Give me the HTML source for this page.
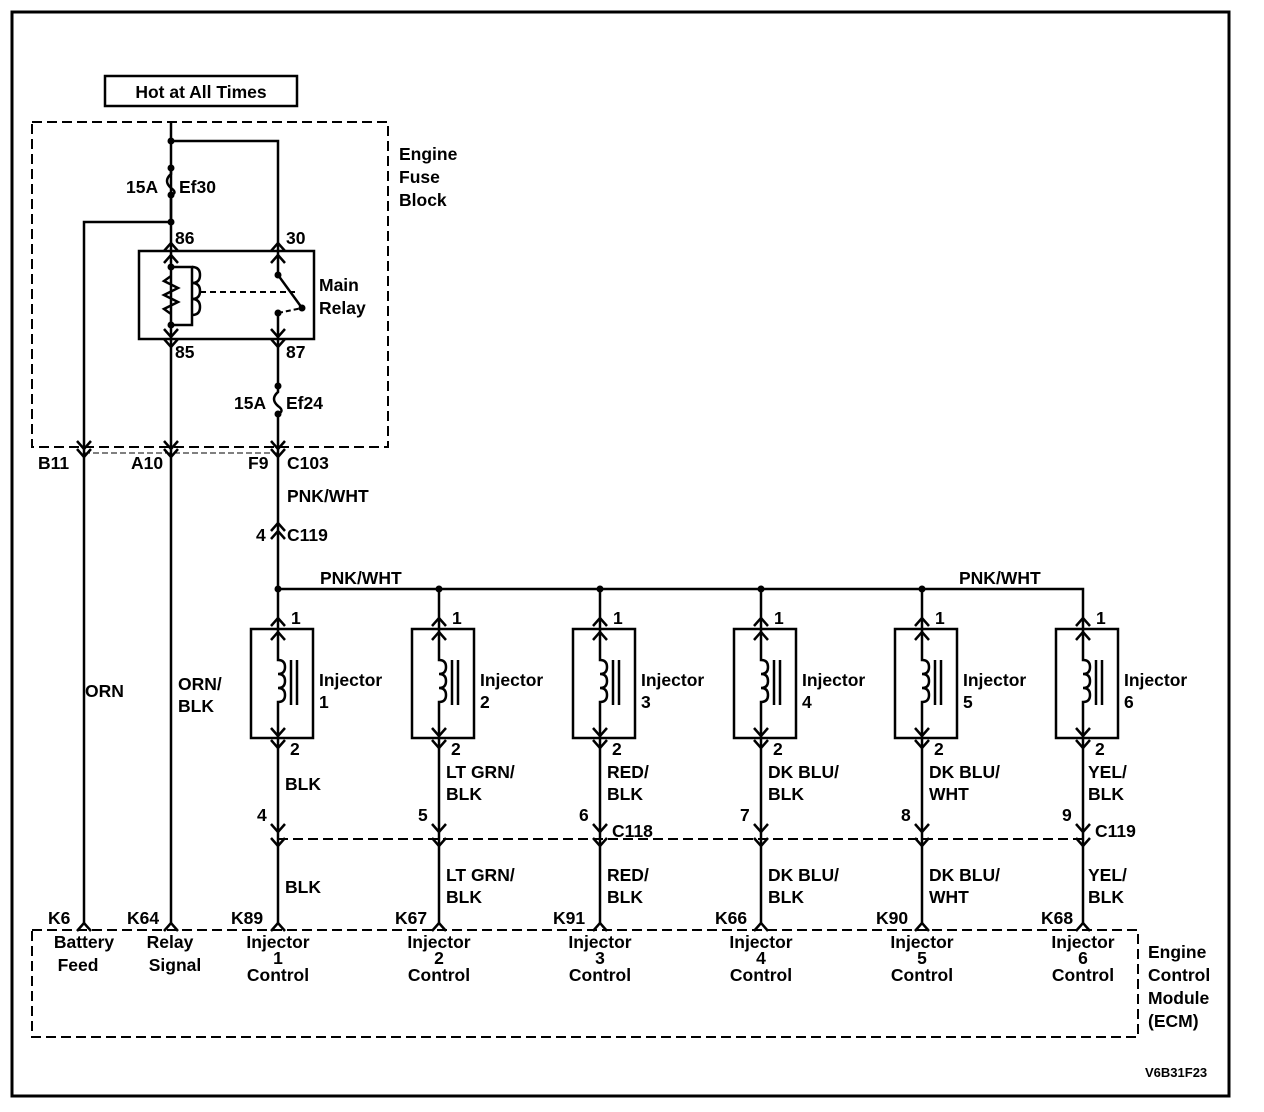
<!DOCTYPE html>
<html><head><meta charset="utf-8"><style>
html,body{margin:0;padding:0;background:#fff;}
svg{display:block}
text{font-family:"Liberation Sans",Arial,sans-serif;font-size:17.5px;font-weight:bold;fill:#000}
</style></head><body>
<svg width="1264" height="1112" viewBox="0 0 1264 1112" xmlns="http://www.w3.org/2000/svg">
<defs>
<path id="vd" d="M-7,-8 L0,0 L7,-8" fill="none" stroke="#000" stroke-width="2.5"/>
<path id="vu" d="M-7,8 L0,0 L7,8" fill="none" stroke="#000" stroke-width="2.5"/>
</defs>
<rect x="12" y="12" width="1217" height="1084" fill="none" stroke="#000" stroke-width="3"/>
<rect x="105" y="76" width="192" height="30" fill="none" stroke="#000" stroke-width="2.5"/>
<text x="201" y="98" text-anchor="middle">Hot at All Times</text>

<g fill="none" stroke="#000" stroke-dasharray="10,5" stroke-width="2">
<rect x="32" y="122" width="356" height="325"/>
<rect x="32" y="930" width="1106" height="107"/>
<line x1="278" y1="839" x2="1083" y2="839"/>
</g>
<line x1="84" y1="453" x2="278" y2="453" stroke="#000" stroke-width="1" stroke-dasharray="6,3"/>
<text x="399" y="160">Engine</text><text x="399" y="183">Fuse</text><text x="399" y="206">Block</text>

<g stroke="#000" stroke-width="2.5" fill="none">
<path d="M171,122 V243"/>
<path d="M171,141 H278 V243"/>
<path d="M84,453 V222 H171"/>
<path d="M171,168 V174 q-8,7 0,14 q7,5 0,7"/>
<path d="M171,195 V222"/>
<rect x="139" y="251" width="175" height="88"/>
<path d="M171,243 V347"/>
<path d="M171,267 H192 V325 H171"/>
<path d="M171,276 l-7,5 l14,7 l-14,7 l14,7 l-14,7 l7,5"/>
<path d="M192,267 q8,0 8,8 q0,8 -8,8 q8,0 8,8 q0,8 -8,8 q8,0 8,8 q0,8 -8,8"/>
<path d="M278,243 V275 L302,308"/>
<path d="M278,313 V347"/>
<path d="M200,292 H295" stroke-dasharray="6,4" stroke-width="2"/>
<path d="M278,313 L302,308" stroke-dasharray="5,3" stroke-width="2"/>
<path d="M278,347 V386"/>
<path d="M278,386 V392 q-8,7 0,14 q7,5 0,8"/>
<path d="M278,414 V588"/>
<path d="M171,347 V925"/>
<path d="M84,453 V925"/>
<path d="M278,589 H1083 V618"/>
</g>
<g fill="#000">
<circle cx="171" cy="141" r="3.5"/><circle cx="171" cy="168" r="3.5"/><circle cx="171" cy="195" r="3.5"/><circle cx="171" cy="222" r="3.5"/>
<circle cx="171" cy="267" r="3.5"/><circle cx="171" cy="325" r="3.5"/>
<circle cx="278" cy="275" r="3.5"/><circle cx="278" cy="313" r="3.5"/><circle cx="302" cy="308" r="3.5"/>
<circle cx="278" cy="386" r="3.5"/><circle cx="278" cy="414" r="3.5"/>
<circle cx="278" cy="589" r="3.5"/><circle cx="439" cy="589" r="3.5"/><circle cx="600" cy="589" r="3.5"/><circle cx="761" cy="589" r="3.5"/><circle cx="922" cy="589" r="3.5"/>
</g>
<use href="#vu" x="171" y="243"/><use href="#vu" x="171" y="255"/>
<use href="#vu" x="278" y="243"/><use href="#vu" x="278" y="255"/>
<use href="#vd" x="171" y="337"/><use href="#vd" x="171" y="347"/>
<use href="#vd" x="278" y="337"/><use href="#vd" x="278" y="347"/>
<use href="#vd" x="84" y="449"/><use href="#vd" x="84" y="457"/>
<use href="#vd" x="171" y="449"/><use href="#vd" x="171" y="457"/>
<use href="#vd" x="278" y="449"/><use href="#vd" x="278" y="457"/>
<use href="#vu" x="278" y="523"/><use href="#vu" x="278" y="531"/>
<use href="#vu" x="84" y="923"/><use href="#vu" x="171" y="923"/>

<text x="175" y="244">86</text><text x="286" y="244">30</text>
<text x="175" y="358">85</text><text x="286" y="358">87</text>
<text x="319" y="291">Main</text><text x="319" y="314">Relay</text>
<text x="126" y="193">15A</text><text x="179" y="193">Ef30</text>
<text x="234" y="409">15A</text><text x="286" y="409">Ef24</text>
<text x="38" y="469">B11</text><text x="131" y="469">A10</text><text x="248" y="469">F9</text><text x="287" y="469">C103</text>
<text x="287" y="502">PNK/WHT</text>
<text x="256" y="541">4</text><text x="287" y="541">C119</text>
<text x="320" y="584">PNK/WHT</text><text x="959" y="584">PNK/WHT</text>
<text x="85" y="697">ORN</text>
<text x="178" y="690">ORN/</text><text x="178" y="712">BLK</text>
<text x="48" y="924">K6</text><text x="127" y="924">K64</text>
<text x="84" y="948" text-anchor="middle">Battery</text><text x="78" y="971" text-anchor="middle">Feed</text>
<text x="170" y="948" text-anchor="middle">Relay</text><text x="175" y="971" text-anchor="middle">Signal</text>
<text x="1148" y="958">Engine</text><text x="1148" y="981">Control</text><text x="1148" y="1004">Module</text><text x="1148" y="1027">(ECM)</text>
<text x="1145" y="1077" style="font-size:13px">V6B31F23</text>

<g stroke="#000" stroke-width="2.5" fill="none">
<path d="M278,589 V618"/><path d="M439,589 V618"/><path d="M600,589 V618"/><path d="M761,589 V618"/><path d="M922,589 V618"/>
</g>

<g transform="translate(278,0)">
<g stroke="#000" stroke-width="2.5" fill="none"><rect x="-27" y="629" width="62" height="109"/><path d="M0,618 V660 q7,0 7,7 q0,7 -7,7 q7,0 7,7 q0,7 -7,7 q7,0 7,7 q0,7 -7,7 V925"/><path d="M13,660 V705 M19,660 V705"/></g>
<use href="#vu" x="0" y="618"/><use href="#vu" x="0" y="632"/><use href="#vd" x="0" y="736"/><use href="#vd" x="0" y="748"/><use href="#vd" x="0" y="832"/><use href="#vd" x="0" y="846"/><use href="#vu" x="0" y="923"/>
<text x="13" y="624">1</text><text x="41" y="686">Injector</text><text x="41" y="708">1</text><text x="12" y="755">2</text>
<text x="7" y="790">BLK</text><text x="-21" y="821">4</text><text x="7" y="893">BLK</text><text x="-47" y="924">K89</text>
<text x="0" y="948" text-anchor="middle">Injector</text><text x="0" y="964" text-anchor="middle">1</text><text x="0" y="981" text-anchor="middle">Control</text>
</g>
<g transform="translate(439,0)">
<g stroke="#000" stroke-width="2.5" fill="none"><rect x="-27" y="629" width="62" height="109"/><path d="M0,618 V660 q7,0 7,7 q0,7 -7,7 q7,0 7,7 q0,7 -7,7 q7,0 7,7 q0,7 -7,7 V925"/><path d="M13,660 V705 M19,660 V705"/></g>
<use href="#vu" x="0" y="618"/><use href="#vu" x="0" y="632"/><use href="#vd" x="0" y="736"/><use href="#vd" x="0" y="748"/><use href="#vd" x="0" y="832"/><use href="#vd" x="0" y="846"/><use href="#vu" x="0" y="923"/>
<text x="13" y="624">1</text><text x="41" y="686">Injector</text><text x="41" y="708">2</text><text x="12" y="755">2</text>
<text x="7" y="778">LT GRN/</text><text x="7" y="800">BLK</text><text x="-21" y="821">5</text><text x="7" y="881">LT GRN/</text><text x="7" y="903">BLK</text><text x="-44" y="924">K67</text>
<text x="0" y="948" text-anchor="middle">Injector</text><text x="0" y="964" text-anchor="middle">2</text><text x="0" y="981" text-anchor="middle">Control</text>
</g>
<g transform="translate(600,0)">
<g stroke="#000" stroke-width="2.5" fill="none"><rect x="-27" y="629" width="62" height="109"/><path d="M0,618 V660 q7,0 7,7 q0,7 -7,7 q7,0 7,7 q0,7 -7,7 q7,0 7,7 q0,7 -7,7 V925"/><path d="M13,660 V705 M19,660 V705"/></g>
<use href="#vu" x="0" y="618"/><use href="#vu" x="0" y="632"/><use href="#vd" x="0" y="736"/><use href="#vd" x="0" y="748"/><use href="#vd" x="0" y="832"/><use href="#vd" x="0" y="846"/><use href="#vu" x="0" y="923"/>
<text x="13" y="624">1</text><text x="41" y="686">Injector</text><text x="41" y="708">3</text><text x="12" y="755">2</text>
<text x="7" y="778">RED/</text><text x="7" y="800">BLK</text><text x="-21" y="821">6</text><text x="12" y="837">C118</text><text x="7" y="881">RED/</text><text x="7" y="903">BLK</text><text x="-47" y="924">K91</text>
<text x="0" y="948" text-anchor="middle">Injector</text><text x="0" y="964" text-anchor="middle">3</text><text x="0" y="981" text-anchor="middle">Control</text>
</g>
<g transform="translate(761,0)">
<g stroke="#000" stroke-width="2.5" fill="none"><rect x="-27" y="629" width="62" height="109"/><path d="M0,618 V660 q7,0 7,7 q0,7 -7,7 q7,0 7,7 q0,7 -7,7 q7,0 7,7 q0,7 -7,7 V925"/><path d="M13,660 V705 M19,660 V705"/></g>
<use href="#vu" x="0" y="618"/><use href="#vu" x="0" y="632"/><use href="#vd" x="0" y="736"/><use href="#vd" x="0" y="748"/><use href="#vd" x="0" y="832"/><use href="#vd" x="0" y="846"/><use href="#vu" x="0" y="923"/>
<text x="13" y="624">1</text><text x="41" y="686">Injector</text><text x="41" y="708">4</text><text x="12" y="755">2</text>
<text x="7" y="778">DK BLU/</text><text x="7" y="800">BLK</text><text x="-21" y="821">7</text><text x="7" y="881">DK BLU/</text><text x="7" y="903">BLK</text><text x="-46" y="924">K66</text>
<text x="0" y="948" text-anchor="middle">Injector</text><text x="0" y="964" text-anchor="middle">4</text><text x="0" y="981" text-anchor="middle">Control</text>
</g>
<g transform="translate(922,0)">
<g stroke="#000" stroke-width="2.5" fill="none"><rect x="-27" y="629" width="62" height="109"/><path d="M0,618 V660 q7,0 7,7 q0,7 -7,7 q7,0 7,7 q0,7 -7,7 q7,0 7,7 q0,7 -7,7 V925"/><path d="M13,660 V705 M19,660 V705"/></g>
<use href="#vu" x="0" y="618"/><use href="#vu" x="0" y="632"/><use href="#vd" x="0" y="736"/><use href="#vd" x="0" y="748"/><use href="#vd" x="0" y="832"/><use href="#vd" x="0" y="846"/><use href="#vu" x="0" y="923"/>
<text x="13" y="624">1</text><text x="41" y="686">Injector</text><text x="41" y="708">5</text><text x="12" y="755">2</text>
<text x="7" y="778">DK BLU/</text><text x="7" y="800">WHT</text><text x="-21" y="821">8</text><text x="7" y="881">DK BLU/</text><text x="7" y="903">WHT</text><text x="-46" y="924">K90</text>
<text x="0" y="948" text-anchor="middle">Injector</text><text x="0" y="964" text-anchor="middle">5</text><text x="0" y="981" text-anchor="middle">Control</text>
</g>
<g transform="translate(1083,0)">
<g stroke="#000" stroke-width="2.5" fill="none"><rect x="-27" y="629" width="62" height="109"/><path d="M0,618 V660 q7,0 7,7 q0,7 -7,7 q7,0 7,7 q0,7 -7,7 q7,0 7,7 q0,7 -7,7 V925"/><path d="M13,660 V705 M19,660 V705"/></g>
<use href="#vu" x="0" y="618"/><use href="#vu" x="0" y="632"/><use href="#vd" x="0" y="736"/><use href="#vd" x="0" y="748"/><use href="#vd" x="0" y="832"/><use href="#vd" x="0" y="846"/><use href="#vu" x="0" y="923"/>
<text x="13" y="624">1</text><text x="41" y="686">Injector</text><text x="41" y="708">6</text><text x="12" y="755">2</text>
<text x="5" y="778">YEL/</text><text x="5" y="800">BLK</text><text x="-21" y="821">9</text><text x="12" y="837">C119</text><text x="5" y="881">YEL/</text><text x="5" y="903">BLK</text><text x="-42" y="924">K68</text>
<text x="0" y="948" text-anchor="middle">Injector</text><text x="0" y="964" text-anchor="middle">6</text><text x="0" y="981" text-anchor="middle">Control</text>
</g>
</svg>
</body></html>
